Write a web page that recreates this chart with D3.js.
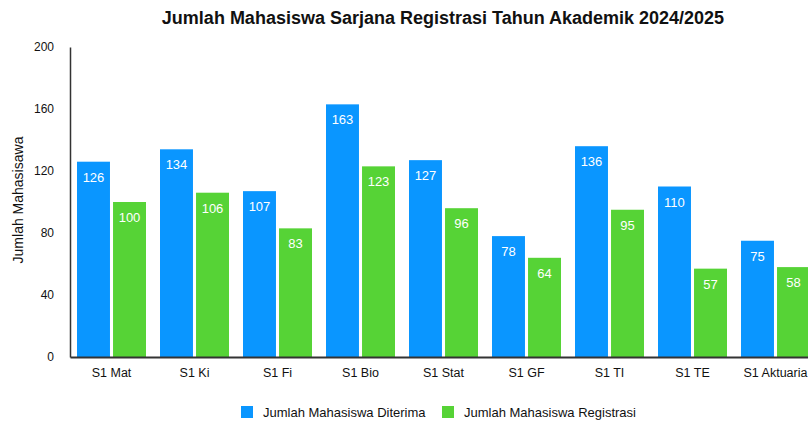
<!DOCTYPE html>
<html>
<head>
<meta charset="utf-8">
<script src="https://cdn.jsdelivr.net/npm/d3@7"></script>
<style>
  body { margin: 0; background: #fff; }
  svg { font-family: "Liberation Sans", Arial, Helvetica, sans-serif; }
</style>
</head>
<body>
<div id="container"></div>
<script>
let categories = ["S1 Mat", "S1 Ki", "S1 Fi", "S1 Bio", "S1 Stat", "S1 GF", "S1 TI", "S1 TE", "S1 Aktuaria"];
let diterima = [126, 134, 107, 163, 127, 78, 136, 110, 75];
let registrasi = [100, 106, 83, 123, 96, 64, 95, 57, 58];
let seriesNames = ["Jumlah Mahasiswa Diterima", "Jumlah Mahasiswa Registrasi"];
let yTicks = [0, 40, 80, 120, 160, 200];

let colors = ["#0A96FF", "#56D336"];
let margin = {top: 47, right: -9, bottom: 67, left: 70};
let width = 808 - margin.left - margin.right,
    height = 424 - margin.top - margin.bottom;

let svg = d3.select("#container").append("svg")
    .attr("width", 808)
    .attr("height", 424);

let g = svg.append("g")
    .attr("transform", "translate(" + margin.left + "," + margin.top + ")");

let x0 = d3.scaleBand()
    .domain(categories)
    .range([0, width])
    .paddingInner(14 / 83)
    .paddingOuter(7 / 83);

let x1 = d3.scaleBand()
    .domain([0, 1])
    .range([0, x0.bandwidth()])
    .paddingInner(0.085);

let y = d3.scaleLinear()
    .domain([0, 200])
    .range([height, 0]);

// bars
let groups = g.selectAll(".group")
    .data(categories)
    .enter().append("g")
    .attr("class", "group")
    .attr("transform", function(d) { return "translate(" + x0(d) + ",0)"; });

let bar = groups.selectAll(".bar")
    .data(function(d, i) { return [diterima[i], registrasi[i]]; })
    .enter().append("g")
    .attr("class", "bar");

bar.append("rect")
    .attr("x", function(d, i) { return x1(i); })
    .attr("y", function(d) { return y(d); })
    .attr("width", x1.bandwidth())
    .attr("height", function(d) { return height - y(d); })
    .style("fill", function(d, i) { return colors[i]; });

bar.append("text")
    .attr("x", function(d, i) { return x1(i) + x1.bandwidth() / 2; })
    .attr("y", function(d) { return y(d) + 20; })
    .attr("text-anchor", "middle")
    .style("fill", "white")
    .style("font-size", "13px")
    .text(function(d) { return d; });

// y axis
let yAxis = g.append("g")
    .call(d3.axisLeft(y).tickValues(yTicks).tickSize(0).tickPadding(16));
yAxis.select(".domain").attr("stroke", "#333").attr("stroke-width", 1.5);
yAxis.selectAll("text").style("font-size", "12px").style("fill", "#111");

// x axis
let xAxis = g.append("g")
    .attr("transform", "translate(0," + height + ")")
    .call(d3.axisBottom(x0).tickSize(0).tickPadding(11));
xAxis.select(".domain").attr("stroke", "#333").attr("stroke-width", 2);
xAxis.selectAll("text").style("font-size", "12.5px").style("fill", "#111");

// y label
svg.append("text")
    .attr("transform", "translate(23," + (margin.top + height / 2 - 2) + ") rotate(-90)")
    .attr("text-anchor", "middle")
    .style("font-size", "14px")
    .style("fill", "#111")
    .text("Jumlah Mahasisawa");

// title
svg.append("text")
    .attr("x", 443)
    .attr("y", 24)
    .attr("text-anchor", "middle")
    .style("font-size", "18px")
    .style("font-weight", "bold")
    .style("fill", "#111")
    .text("Jumlah Mahasiswa Sarjana Registrasi Tahun Akademik 2024/2025");

// legend
let legendX = [241, 442];
let legend = svg.selectAll(".legend")
    .data(seriesNames)
    .enter().append("g")
    .attr("class", "legend")
    .attr("transform", function(d, i) { return "translate(" + legendX[i] + ",406)"; });

legend.append("rect")
    .attr("width", 12)
    .attr("height", 12)
    .style("fill", function(d, i) { return colors[i]; });

legend.append("text")
    .attr("x", 22)
    .attr("y", 11)
    .style("font-size", "13px")
    .style("fill", "#111")
    .text(function(d) { return d; });
</script>
</body>
</html>
